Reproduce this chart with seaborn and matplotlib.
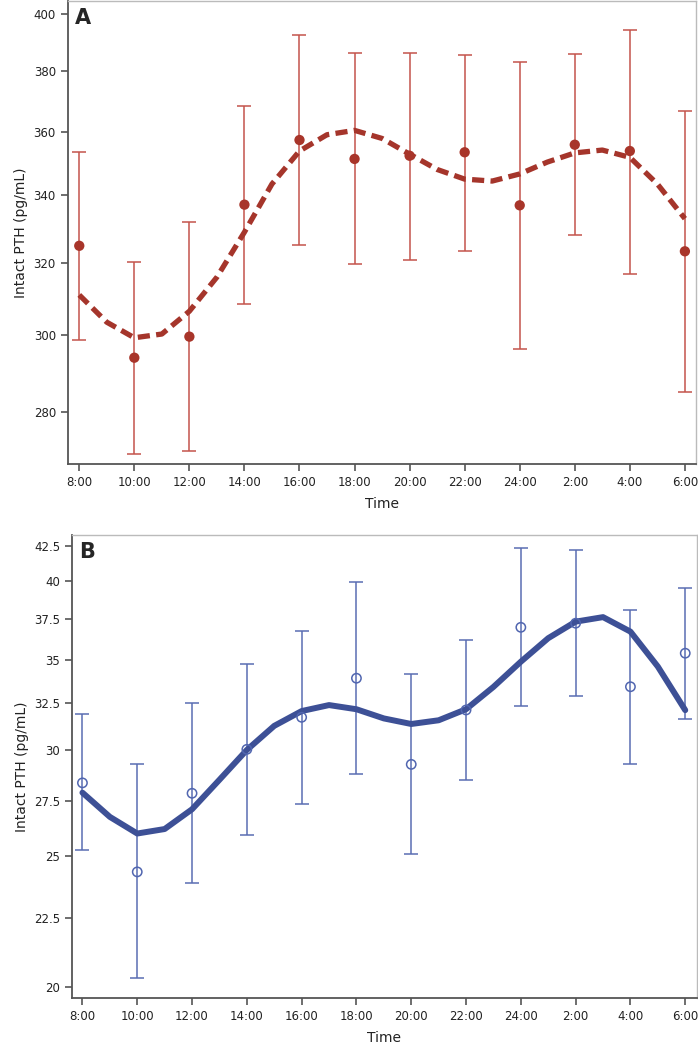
import numpy as np
import pandas as pd
import matplotlib
matplotlib.use("Agg")
import matplotlib.pyplot as plt
from matplotlib.ticker import FixedLocator, FixedFormatter, NullLocator
import seaborn as sns

# time points (categorical positions 0..11)
time_labels = ["8:00", "10:00", "12:00", "14:00", "16:00", "18:00",
               "20:00", "22:00", "24:00", "2:00", "4:00", "6:00"]

# Panel A - intact PTH, mean with error bars
a_mean = [325.0, 294.0, 299.6, 337.2, 357.3, 351.3, 352.3, 353.4, 337.0, 355.8, 353.8, 323.4]
a_upper = [353.6, 320.4, 332.0, 368.5, 392.7, 386.1, 386.3, 385.7, 383.0, 386.0, 394.4, 366.6]
a_lower = [298.8, 269.8, 270.5, 308.4, 325.1, 319.6, 321.0, 323.5, 296.3, 328.1, 317.0, 285.2]
# fitted curve read every hour (half category step)
a_fit = [311.0, 303.5, 299.3, 300.3, 306.5, 316.0, 329.0, 343.5, 353.8, 359.0, 360.4,
         357.8, 352.8, 348.0, 345.0, 344.4, 346.6, 350.3, 353.2, 354.1, 351.8, 343.5, 333.0]

# Panel B
b_mean = [28.35, 24.35, 27.85, 30.02, 31.71, 33.90, 29.26, 32.11, 36.98, 37.24, 33.41, 35.38]
b_upper = [31.90, 29.26, 32.48, 34.74, 36.75, 39.98, 34.15, 36.19, 42.33, 42.19, 38.10, 39.58]
b_lower = [25.26, 20.30, 23.89, 25.92, 27.36, 28.77, 25.10, 28.49, 32.33, 32.90, 29.28, 31.64]
b_fit = [27.88, 26.75, 26.00, 26.20, 27.10, 28.50, 29.99, 31.25, 32.05, 32.38, 32.15,
         31.65, 31.35, 31.55, 32.15, 33.40, 34.87, 36.30, 37.34, 37.63, 36.71, 34.58, 32.10]

a_ticks = [280, 300, 320, 340, 360, 380, 400]
b_ticks = [20, 22.5, 25, 27.5, 30, 32.5, 35, 37.5, 40, 42.5]
b_ticklabels = ["20", "22.5", "25", "27.5", "30", "32.5", "35", "37.5", "40", "42.5"]

sns.set_style("ticks")
plt.rcParams['font.family'] = ['DejaVu Sans']

pos = np.arange(len(time_labels))
fit_pos = np.arange(len(a_fit)) / 2.0

fig = plt.figure(figsize=(6.98, 10.5), dpi=100)
axA = fig.add_axes([0.097, 0.5581, 0.900, 0.441])
axB = fig.add_axes([0.1032, 0.0498, 0.895, 0.4407])


def style_axes(ax):
    for side in ["top", "right"]:
        ax.spines[side].set_color("#BBBBBB")
        ax.spines[side].set_linewidth(1.0)
    for side in ["left", "bottom"]:
        ax.spines[side].set_color("#555555")
        ax.spines[side].set_linewidth(1.3)
    ax.tick_params(axis="both", colors="#555555", labelcolor="#222222",
                   labelsize=8.5, length=5, width=1.2)
    ax.set_xticks(pos)
    ax.set_xticklabels(time_labels)
    ax.set_xlabel("Time", fontsize=10, color="#222222")
    ax.set_ylabel("Intact PTH (pg/mL)", fontsize=10, color="#222222")


# ---- Panel A ----
dfA = pd.DataFrame({"x": pos, "mean": a_mean})
fitA = pd.DataFrame({"x": fit_pos, "fit": a_fit})
axA.set_yscale("log")
axA.errorbar(pos, a_mean,
             yerr=[np.array(a_mean) - np.array(a_lower), np.array(a_upper) - np.array(a_mean)],
             fmt="none", ecolor="#C4544B", elinewidth=1.1, capsize=5, capthick=1.1, zorder=2)
sns.lineplot(data=fitA, x="x", y="fit", ax=axA, color="#A5352B", linewidth=3.8,
             dashes=[(2.3, 1.2)], style=[0] * len(fitA), legend=False, zorder=3)
sns.scatterplot(data=dfA, x="x", y="mean", ax=axA, color="#A8352A", s=55,
                edgecolor="none", zorder=4)
for ln in axA.get_lines():
    ln.set_solid_joinstyle("round")
    ln.set_dash_joinstyle("round")
axA.set_xlim(-0.21, 11.2)
axA.set_ylim(267.3, 404.7)
axA.yaxis.set_major_locator(FixedLocator(a_ticks))
axA.yaxis.set_major_formatter(FixedFormatter([str(t) for t in a_ticks]))
axA.yaxis.set_minor_locator(NullLocator())
style_axes(axA)
axA.xaxis.labelpad = 6
axA.text(0.012, 0.985, "A", transform=axA.transAxes, fontsize=15, fontweight="bold",
         va="top", ha="left")

# ---- Panel B ----
dfB = pd.DataFrame({"x": pos, "mean": b_mean})
fitB = pd.DataFrame({"x": fit_pos, "fit": b_fit})
axB.set_yscale("log")
axB.errorbar(pos, b_mean,
             yerr=[np.array(b_mean) - np.array(b_lower), np.array(b_upper) - np.array(b_mean)],
             fmt="none", ecolor="#5A6DB3", elinewidth=1.1, capsize=5, capthick=1.1, zorder=2)
sns.lineplot(data=fitB, x="x", y="fit", ax=axB, color="#3D5096", linewidth=4.3, zorder=3)
sns.scatterplot(data=dfB, x="x", y="mean", ax=axB, facecolor="none", edgecolor="#5166B0",
                linewidth=1.1, s=45, zorder=4)
for ln in axB.get_lines():
    ln.set_solid_joinstyle("round")
axB.set_xlim(-0.19, 11.21)
axB.set_ylim(19.64, 43.3)
axB.yaxis.set_major_locator(FixedLocator(b_ticks))
axB.yaxis.set_major_formatter(FixedFormatter(b_ticklabels))
axB.yaxis.set_minor_locator(NullLocator())
style_axes(axB)
axB.xaxis.labelpad = 6
axB.text(0.012, 0.985, "B", transform=axB.transAxes, fontsize=15, fontweight="bold",
         va="top", ha="left")

fig.savefig("out.png", dpi=100)
plt.close(fig)
